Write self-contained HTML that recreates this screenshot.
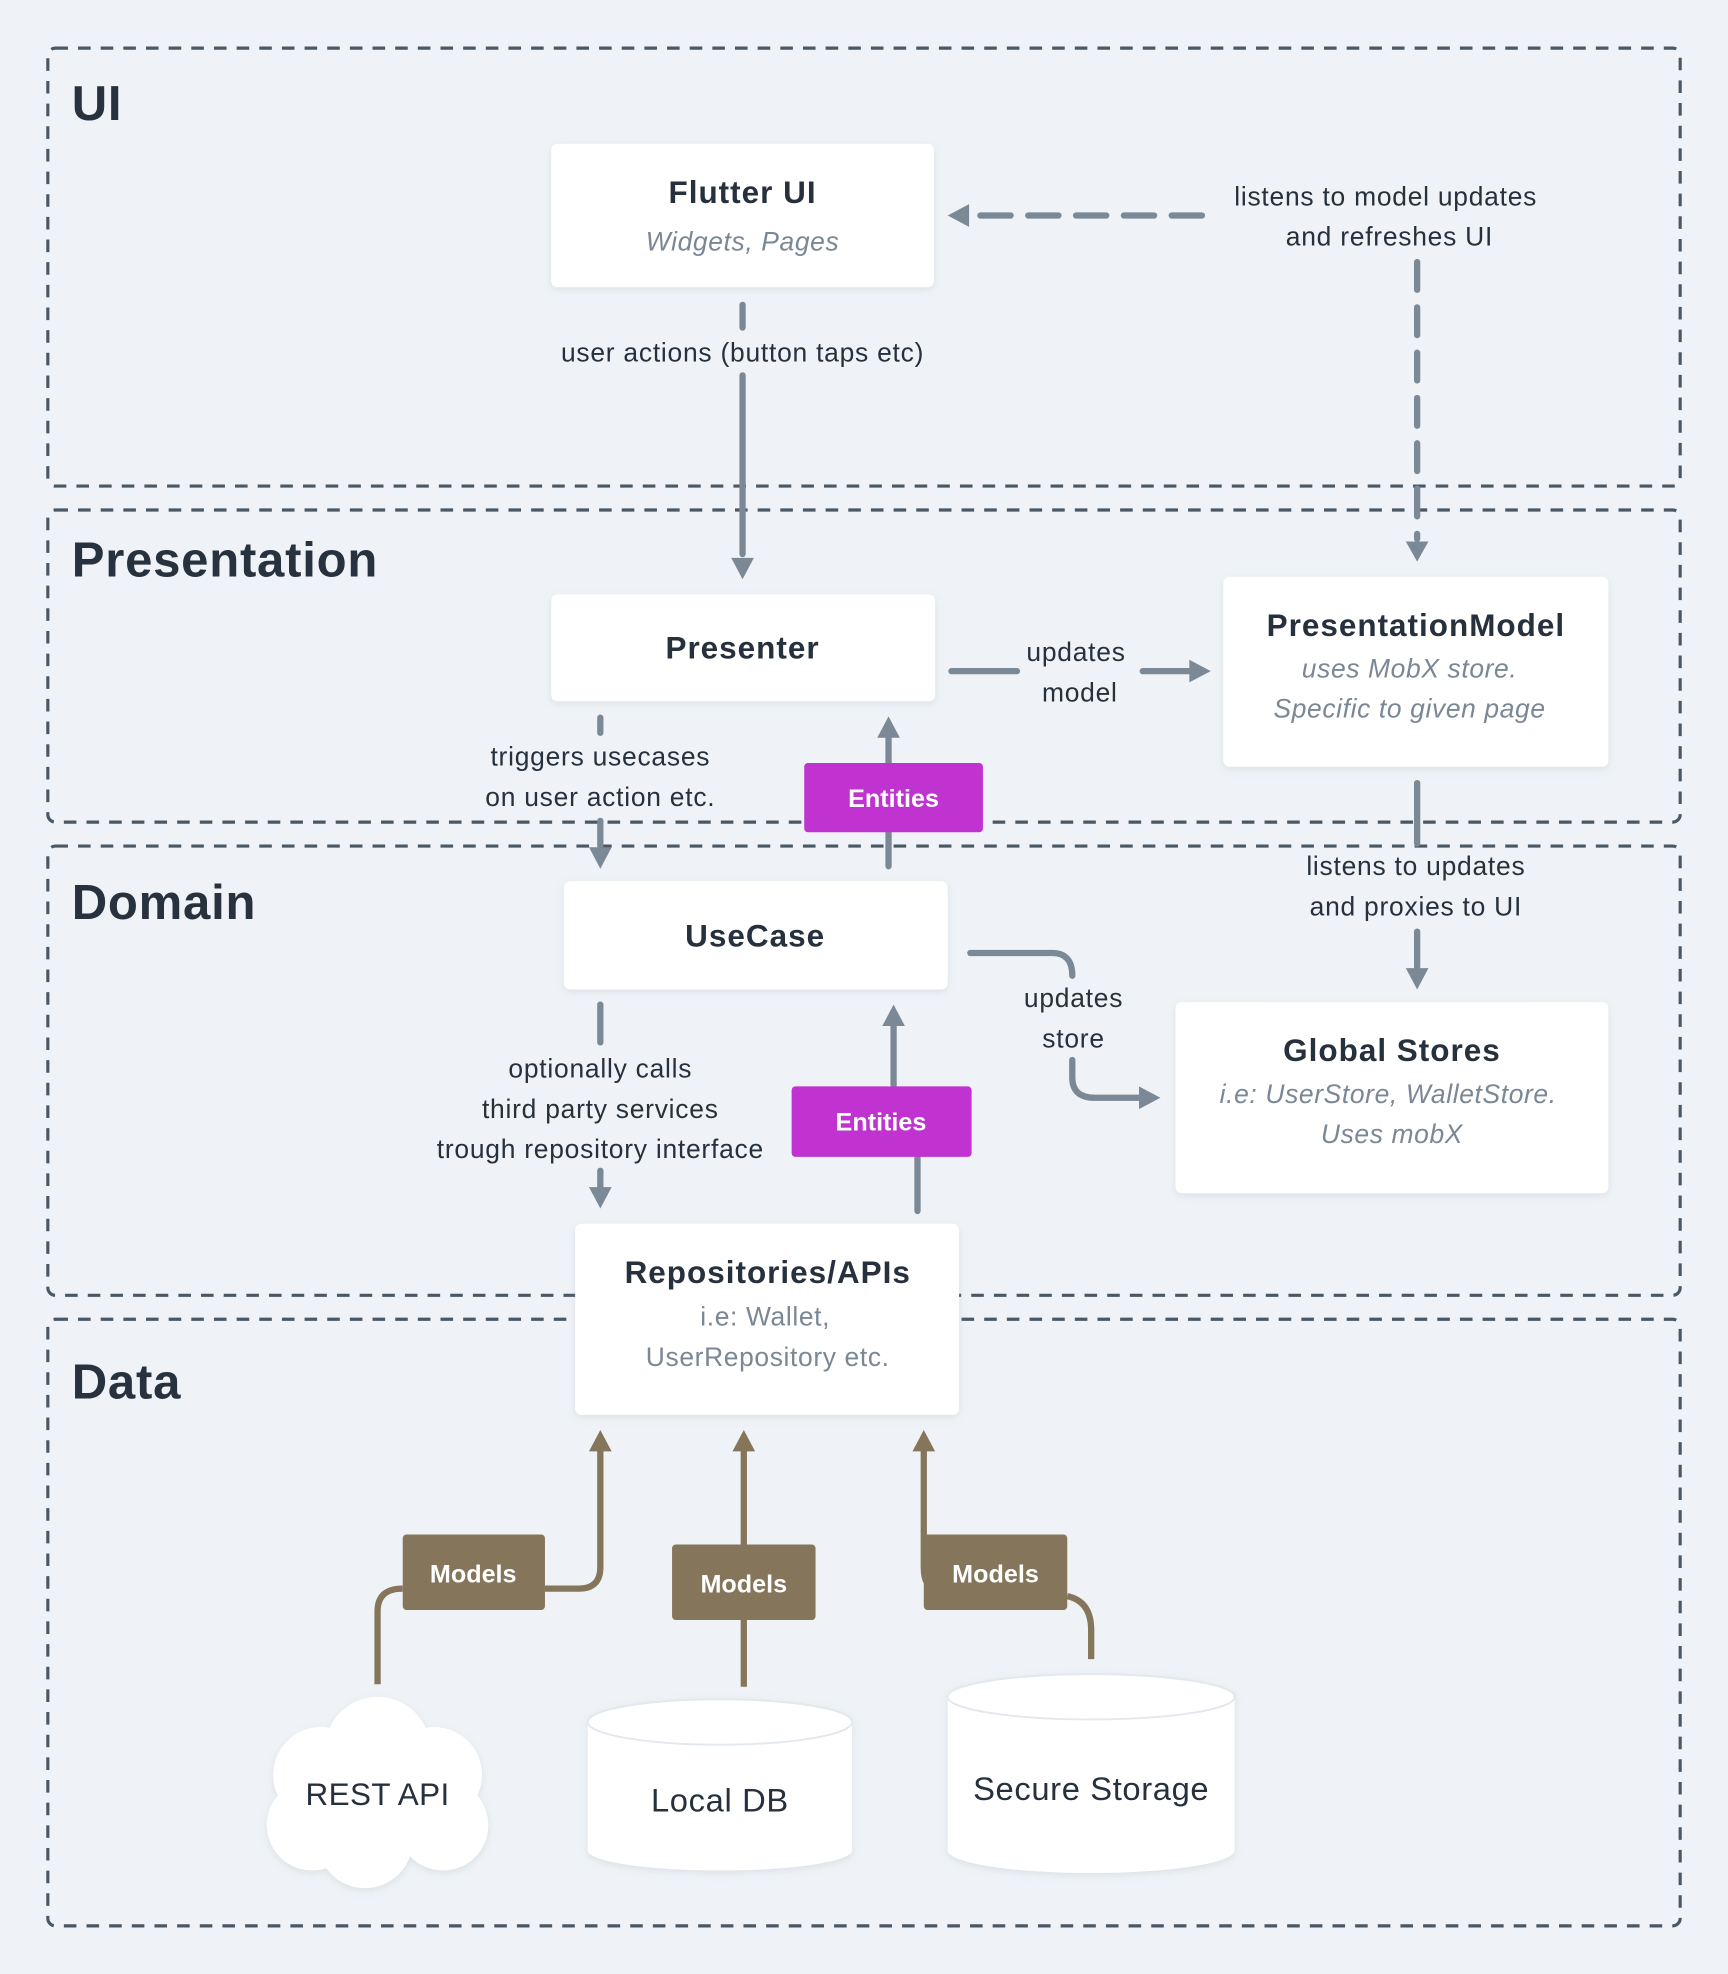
<!DOCTYPE html>
<html><head><meta charset="utf-8"><style>
html,body{margin:0;padding:0;background:#eff3f7;}
svg{display:block}
text{font-family:"Liberation Sans",sans-serif;}
.t{font-size:21px;letter-spacing:0.6px;fill:#26313d;text-anchor:middle}
.h{font-size:25px;letter-spacing:0.8px;font-weight:bold;fill:#26313d;text-anchor:middle}
.s{font-size:21px;letter-spacing:0.5px;fill:#7a8795;text-anchor:middle}
.i{font-size:21px;letter-spacing:0.5px;fill:#7a8795;text-anchor:middle;font-style:italic}
.big{font-size:39px;letter-spacing:0.6px;font-weight:bold;fill:#27323e}
.w{font-size:20px;font-weight:bold;fill:#fff;text-anchor:middle}
.c{stroke:#7b8896;stroke-width:5;fill:none;stroke-linecap:round}
.b{stroke:#85755b;stroke-width:5;fill:none}
.reg{fill:none;stroke:#4a5866;stroke-width:2.5;stroke-dasharray:10 8}
</style></head><body>
<svg width="1728" height="1974" viewBox="0 0 1373 1568" xmlns="http://www.w3.org/2000/svg">
<defs>
<filter id="sh" x="-10%" y="-10%" width="120%" height="130%"><feDropShadow dx="0" dy="2" stdDeviation="3" flood-color="#9aa8b6" flood-opacity="0.25"/></filter>
</defs>
<rect x="0" y="0" width="1373" height="1568" fill="#eff3f7"/>
<rect class="reg" x="38" y="38" width="1297" height="348" rx="6"/>
<rect class="reg" x="38" y="405" width="1297" height="248" rx="6"/>
<rect class="reg" x="38" y="672" width="1297" height="357" rx="6"/>
<rect class="reg" x="38" y="1048" width="1297" height="482" rx="6"/>
<text class="big" x="57" y="95">UI</text>
<text class="big" x="57" y="458">Presentation</text>
<text class="big" x="57" y="730">Domain</text>
<text class="big" x="57" y="1111">Data</text>

<line class="c" x1="590" y1="242" x2="590" y2="260"/>
<line class="c" x1="590" y1="298" x2="590" y2="440"/>
<polygon points="581,443 599,443 590,460" fill="#7b8896"/>
<line class="c" x1="955" y1="171" x2="775" y2="171" stroke-dasharray="24 14"/>
<polygon points="770,162 770,180 753,171" fill="#7b8896"/>
<line class="c" x1="1126" y1="208" x2="1126" y2="428" stroke-dasharray="22 14"/>
<polygon points="1117,430 1135,430 1126,446" fill="#7b8896"/>
<line class="c" x1="756" y1="533" x2="808" y2="533"/>
<line class="c" x1="908" y1="533" x2="945" y2="533"/>
<polygon points="945,524 945,542 962,533" fill="#7b8896"/>
<line class="c" x1="477" y1="570" x2="477" y2="582"/>
<line class="c" x1="477" y1="652" x2="477" y2="672"/>
<polygon points="468,673 486,673 477,690" fill="#7b8896"/>
<line class="c" x1="706" y1="688" x2="706" y2="584"/>
<polygon points="697,586 715,586 706,569" fill="#7b8896"/>
<line class="c" x1="1126" y1="622" x2="1126" y2="670"/>
<line class="c" x1="1126" y1="740" x2="1126" y2="768"/>
<polygon points="1117,769 1135,769 1126,786" fill="#7b8896"/>
<path class="c" d="M771,757 H836 Q852,757 852,775"/>
<path class="c" d="M852,842 V856 Q852,872 870,872 H905"/>
<polygon points="905,863 905,881 922,872" fill="#7b8896"/>
<line class="c" x1="477" y1="798" x2="477" y2="828"/>
<line class="c" x1="477" y1="930" x2="477" y2="944"/>
<polygon points="468,943 486,943 477,960" fill="#7b8896"/>
<line class="c" x1="710" y1="862" x2="710" y2="814"/>
<polygon points="701,815 719,815 710,798" fill="#7b8896"/>
<line class="c" x1="729" y1="918" x2="729" y2="962"/>

<g filter="url(#sh)" fill="#fff">
<rect x="438" y="114" width="304" height="114" rx="5"/>
<rect x="438" y="472" width="305" height="85" rx="5"/>
<rect x="972" y="458" width="306" height="151" rx="5"/>
<rect x="448" y="700" width="305" height="86" rx="5"/>
<rect x="934" y="796" width="344" height="152" rx="5"/>
<rect x="457" y="972" width="305" height="152" rx="5"/>
</g>
<text class="h" x="590" y="161">Flutter UI</text>
<text class="i" x="590" y="199">Widgets, Pages</text>
<text class="t" x="590" y="287">user actions (button taps etc)</text>
<text class="t" x="1101" y="163">listens to model updates</text>
<text class="t" x="1104" y="195">and refreshes UI</text>
<text class="h" x="590" y="523">Presenter</text>
<text class="t" x="855" y="525">updates</text>
<text class="t" x="858" y="557">model</text>
<text class="h" x="1125" y="505">PresentationModel</text>
<text class="i" x="1120" y="538">uses MobX store.</text>
<text class="i" x="1120" y="570">Specific to given page</text>
<text class="t" x="477" y="608">triggers usecases</text>
<text class="t" x="477" y="640">on user action etc.</text>
<text class="t" x="1125" y="695">listens to updates</text>
<text class="t" x="1125" y="727">and proxies to UI</text>
<text class="h" x="600" y="752">UseCase</text>
<text class="t" x="853" y="800">updates</text>
<text class="t" x="853" y="832">store</text>
<text class="h" x="1106" y="843">Global Stores</text>
<text class="i" x="1103" y="876">i.e: UserStore, WalletStore.</text>
<text class="i" x="1106" y="908">Uses mobX</text>
<text class="t" x="477" y="856">optionally calls</text>
<text class="t" x="477" y="888">third party services</text>
<text class="t" x="477" y="920">trough repository interface</text>
<text class="h" x="610" y="1019">Repositories/APIs</text>
<text class="s" x="608" y="1053">i.e: Wallet,</text>
<text class="s" x="610" y="1085">UserRepository etc.</text>

<rect x="639" y="606" width="142" height="55" rx="3" fill="#c133d1"/>
<text class="w" x="710" y="641">Entities</text>
<rect x="629" y="863" width="143" height="56" rx="3" fill="#c133d1"/>
<text class="w" x="700" y="898">Entities</text>

<path class="b" d="M300,1338 V1280 Q300,1262 320,1262"/>
<path class="b" d="M433,1262 H460 Q477,1262 477,1245 V1150"/>
<polygon points="468,1153 486,1153 477,1136" fill="#85755b"/>
<line class="b" x1="591" y1="1150" x2="591" y2="1340"/>
<polygon points="582,1153 600,1153 591,1136" fill="#85755b"/>
<path class="b" d="M734,1150 V1245 Q734,1262 745,1262"/>
<polygon points="725,1153 743,1153 734,1136" fill="#85755b"/>
<path class="b" d="M848,1268 Q867,1272 867,1295 V1318"/>
<rect x="320" y="1219" width="113" height="60" rx="3" fill="#85755b"/>
<text class="w" x="376" y="1257">Models</text>
<rect x="534" y="1227" width="114" height="60" rx="3" fill="#85755b"/>
<text class="w" x="591" y="1265">Models</text>
<rect x="734" y="1219" width="114" height="60" rx="3" fill="#85755b"/>
<text class="w" x="791" y="1257">Models</text>

<g fill="#fff" filter="url(#sh)">
<circle cx="300" cy="1390" r="42"/><circle cx="255" cy="1410" r="38"/><circle cx="345" cy="1410" r="38"/>
<circle cx="248" cy="1450" r="36"/><circle cx="352" cy="1450" r="36"/><circle cx="290" cy="1462" r="38"/>
<circle cx="300" cy="1425" r="55"/>
</g>
<text class="t" x="300" y="1434" style="font-size:25px;letter-spacing:0.3px">REST API</text>
<g filter="url(#sh)">
<path d="M467,1368 V1470 A105,16 0 0 0 677,1470 V1368 Z" fill="#fff"/>
<ellipse cx="572" cy="1368" rx="105" ry="18" fill="#fff" stroke="#e3e8ee" stroke-width="1.5"/>
<path d="M753,1348 V1470 A114,18 0 0 0 981,1470 V1348 Z" fill="#fff"/>
<ellipse cx="867" cy="1348" rx="114" ry="18" fill="#fff" stroke="#e3e8ee" stroke-width="1.5"/>
</g>
<text class="t" x="572" y="1439" style="font-size:26px;letter-spacing:0.5px">Local DB</text>
<text class="t" x="867" y="1430" style="font-size:26px;letter-spacing:0.5px">Secure Storage</text>
</svg>
</body></html>
